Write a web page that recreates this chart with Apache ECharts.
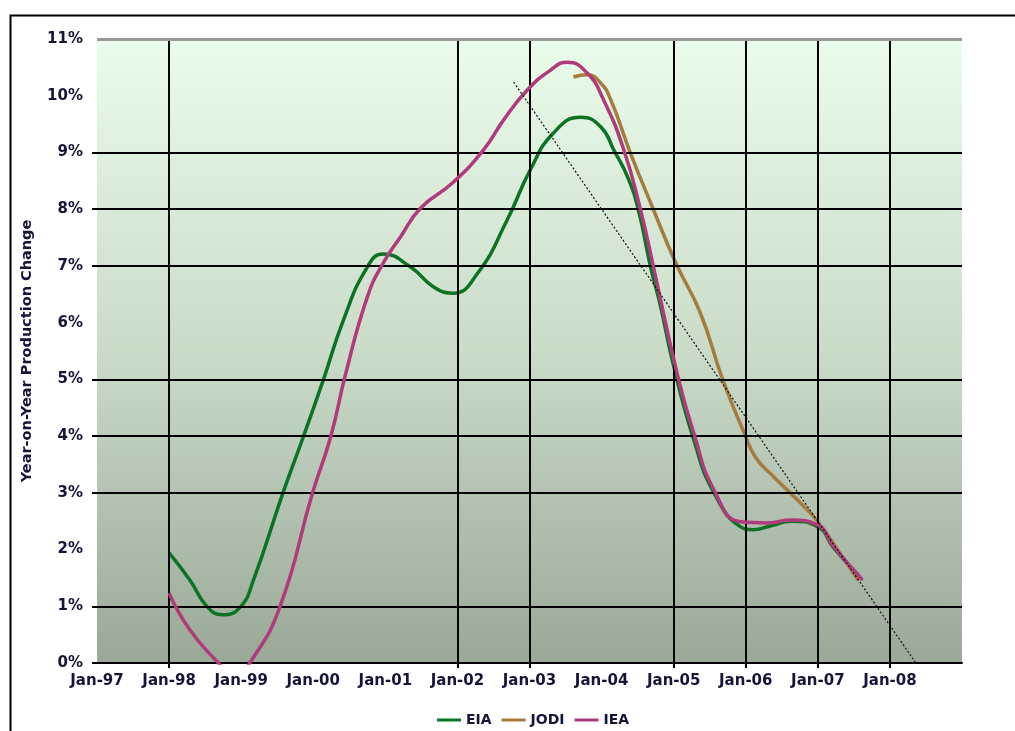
<!DOCTYPE html>
<html>
<head>
<meta charset="utf-8">
<script src="https://cdn.jsdelivr.net/npm/echarts@6/dist/echarts.min.js"></script>
<style>
html,body{margin:0;padding:0;background:#fff;}
#chart{width:1015px;height:731px;}
</style>
</head>
<body>
<div id="chart"></div>
<script>
// ---- Data (decimal years, percent) ----
const xLabelYears = [1997,1998,1999,2000,2001,2002,2003,2004,2005,2006,2007,2008];
const xGridYears = [1998,2002,2003,2005,2006,2007,2008];
const yLabelValues = [0,1,2,3,4,5,6,7,8,9,10,11];
const yGridValues = [1,3,4,5,7,8,9];

const eiaDates  = [1998.00,1998.29,1998.53,1998.74,1998.99,1999.17,1999.58,1999.86,2000.14,2000.42,2000.75,2000.97,2001.35,2001.67,2001.94,2002.28,2002.69,2003.01,2003.33,2003.71,2003.99,2004.17,2004.36,2004.51,2004.68,2004.82,2004.98,2005.28,2005.56,2005.93,2006.10,2006.35,2006.63,2007.00,2007.22,2007.56];
const eiaValues = [1.94,1.46,0.99,0.85,0.99,1.46,3.00,3.98,4.99,6.05,6.98,7.21,6.98,6.63,6.52,6.87,7.81,8.69,9.34,9.62,9.45,9.04,8.57,7.99,6.98,6.28,5.34,3.93,3.00,2.40,2.35,2.42,2.50,2.40,2.03,1.55];

const jodiDates  = [2003.61,2003.80,2003.99,2004.13,2004.40,2004.72,2005.03,2005.37,2005.68,2005.98,2006.14,2006.39,2006.76,2007.00,2007.30,2007.56];
const jodiValues = [10.33,10.37,10.22,9.92,8.99,7.99,7.05,6.17,5.00,4.05,3.62,3.28,2.82,2.49,1.95,1.46];

const ieaDates  = [1998.00,1998.29,1998.67,1998.90,1999.13,1999.54,1999.99,2000.24,2000.45,2000.75,2000.97,2001.21,2001.49,2001.93,2002.36,2002.64,2002.97,2003.29,2003.52,2003.80,2004.03,2004.31,2004.54,2004.72,2005.06,2005.28,2005.56,2005.93,2006.30,2006.63,2007.00,2007.22,2007.62];
const ieaValues = [1.23,0.58,0.02,-0.25,0.02,1.00,3.00,3.98,5.10,6.45,7.05,7.51,8.02,8.46,9.04,9.57,10.10,10.45,10.59,10.40,9.92,9.04,7.99,6.98,5.04,4.05,3.05,2.49,2.47,2.52,2.43,2.05,1.46];

const trendDates  = [2002.78,2008.36];
const trendValues = [10.24,0];

const pair = (xs, ys) => xs.map((x, i) => [x, ys[i]]);

const FONT = 'DejaVu Sans';
const TXT = '#15153a';

const chart = echarts.init(document.getElementById('chart'), null, {renderer:'canvas'});
chart.setOption({
  animation: false,
  backgroundColor: '#ffffff',
  graphic: [{
    type: 'rect', left: 8, top: 13, z: 100, silent: true,
    shape: {x: 0, y: 0, width: 1200, height: 1000},
    style: {fill: 'none', stroke: '#000', lineWidth: 2}
  }],
  grid: {
    left: 97, right: 53, top: 39, bottom: 68,
    show: true, borderWidth: 0,
    backgroundColor: new echarts.graphic.LinearGradient(0, 0, 0, 1, [
      {offset: 0, color: '#eafdea'},
      {offset: 0.5, color: '#cadbc8'},
      {offset: 1, color: '#9aa898'}
    ])
  },
  legend: {
    left: 432, top: 708,
    icon: 'rect', itemWidth: 24, itemHeight: 3, itemGap: 10,
    textStyle: {fontFamily: FONT, fontWeight: 'bold', fontSize: 14, color: TXT},
    data: ['EIA', 'JODI', 'IEA']
  },
  xAxis: {
    type: 'value', min: 1997, max: 2009, interval: 1,
    axisLine: {show: true, onZero: false, lineStyle: {color: '#000', width: 2}},
    axisTick: {show: true, customValues: xGridYears, length: 5, lineStyle: {color: '#000', width: 2}},
    axisLabel: {
      customValues: xLabelYears, margin: 11,
      formatter: v => 'Jan-' + String(Math.round(v)).slice(2),
      fontFamily: FONT, fontWeight: 'bold', fontSize: 15, color: TXT
    },
    splitLine: {show: false}
  },
  yAxis: {
    type: 'value', min: 0, max: 11, interval: 1,
    name: 'Year-on-Year Production Change',
    nameLocation: 'middle', nameGap: 62, nameRotate: 90,
    nameTextStyle: {fontFamily: FONT, fontWeight: 'bold', fontSize: 14.5, color: TXT},
    axisLine: {show: false},
    axisTick: {show: true, customValues: yGridValues.concat([0]), length: 5, lineStyle: {color: '#000', width: 2}},
    axisLabel: {
      customValues: yLabelValues, margin: 14,
      formatter: v => v + '%',
      fontFamily: FONT, fontWeight: 'bold', fontSize: 15, color: TXT
    },
    splitLine: {show: false}
  },
  series: [
    {
      name: 'grid', type: 'line', data: [], z: 1, silent: true,
      markLine: {
        silent: true, symbol: 'none', animation: false,
        label: {show: false},
        lineStyle: {color: '#000', width: 2, type: 'solid'},
        data: xGridYears.map(v => ({xAxis: v}))
          .concat(yGridValues.map(v => ({yAxis: v})))
          .concat([{yAxis: 11, lineStyle: {color: '#9a9a9a', width: 3, type: 'solid'}}])
      }
    },
    {
      name: 'EIA', type: 'line', data: pair(eiaDates, eiaValues),
      smooth: 0.5, symbol: 'none', z: 3,
      lineStyle: {color: '#0b7424', width: 3.5}, itemStyle: {color: '#0b7424'}
    },
    {
      name: 'JODI', type: 'line', data: pair(jodiDates, jodiValues),
      smooth: 0.5, symbol: 'none', z: 4,
      lineStyle: {color: '#a57b3e', width: 3.5}, itemStyle: {color: '#a57b3e'}
    },
    {
      name: 'IEA', type: 'line', data: pair(ieaDates, ieaValues),
      smooth: 0.5, symbol: 'none', z: 5,
      lineStyle: {color: '#b03a7c', width: 3.5}, itemStyle: {color: '#b03a7c'}
    },
    {
      name: 'trend', type: 'line', data: pair(trendDates, trendValues),
      symbol: 'none', z: 6, silent: true,
      lineStyle: {color: '#111', width: 1.2, type: [2, 2]}
    }
  ]
});
</script>
</body>
</html>
